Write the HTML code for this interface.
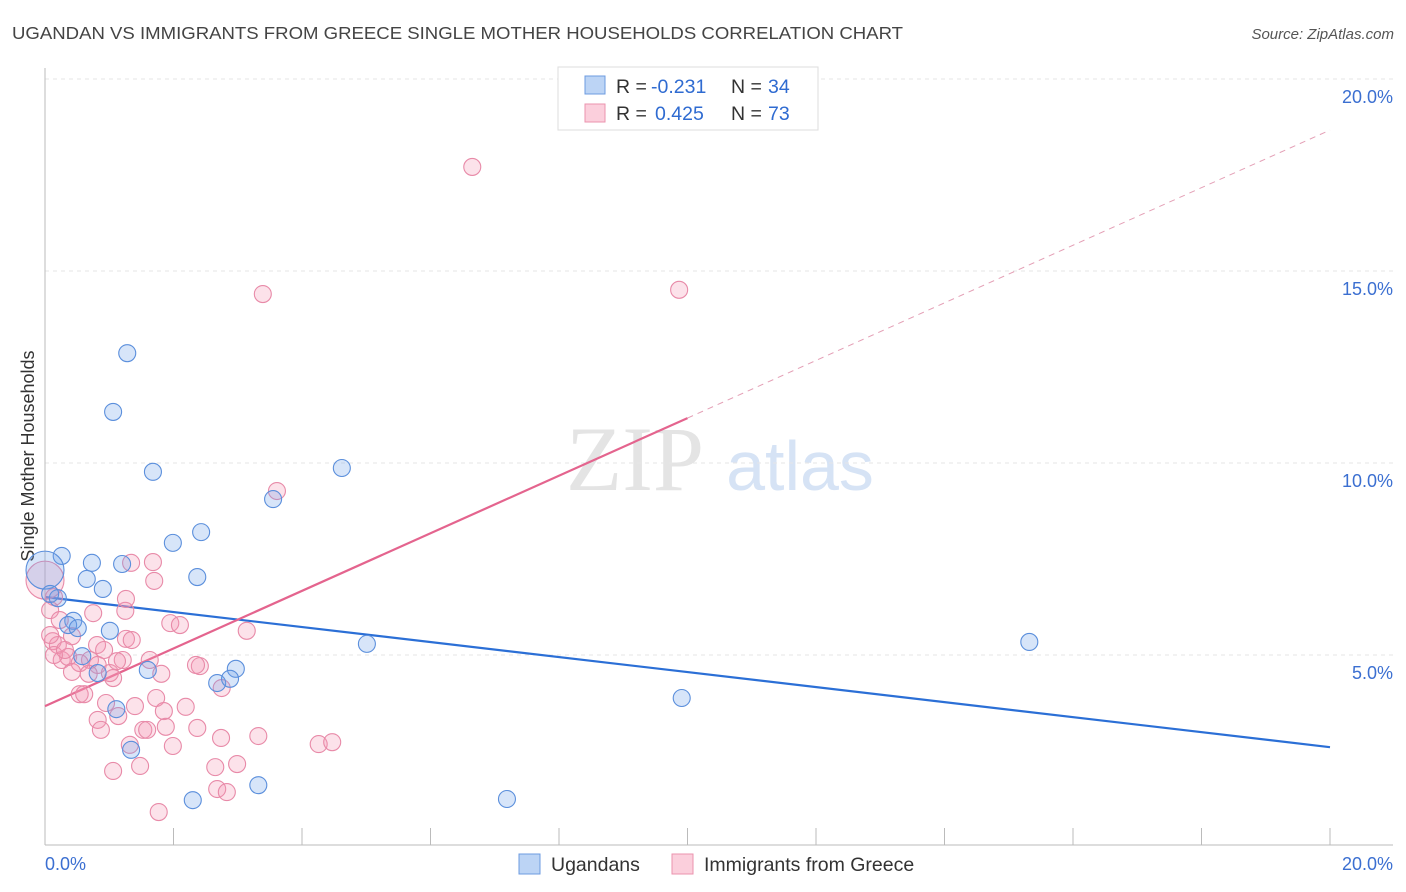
<!DOCTYPE html>
<html><head><meta charset="utf-8"><style>
body{margin:0;background:#fff;font-family:"Liberation Sans",sans-serif;}
svg{display:block}
</style></head><body>
<svg id="chart" width="1406" height="892" viewBox="0 0 1406 892">
<text x="12" y="39" font-size="17.5" fill="#444" textLength="891" lengthAdjust="spacingAndGlyphs">UGANDAN VS IMMIGRANTS FROM GREECE SINGLE MOTHER HOUSEHOLDS CORRELATION CHART</text>
<text x="1394" y="39" font-size="15" fill="#555" font-style="italic" text-anchor="end">Source: ZipAtlas.com</text>
<text transform="translate(34,456) rotate(-90)" font-size="18" fill="#333" text-anchor="middle">Single Mother Households</text>
<g>
<text x="635" y="490" font-size="92" fill="#e4e4e4" font-family="Liberation Serif,serif" text-anchor="middle">ZIP</text>
<text x="800" y="490" font-size="70" fill="#d6e3f5" text-anchor="middle">atlas</text>
</g>
<g id="grid"></g><g id="axes"></g><g id="lines"></g><g id="pts"></g>
<g>
<rect x="558" y="67" width="260" height="63" fill="#fff" stroke="#ddd"/>
<rect x="585" y="76" width="20" height="18" fill="#bcd4f5" stroke="#6c9be0"/>
<rect x="585" y="104" width="20" height="18" fill="#fbcfdc" stroke="#eb93ae"/>
<text x="616" y="93" font-size="19.5" fill="#333">R =</text>
<text x="651" y="93" font-size="19.5" fill="#2f6bd1">-0.231</text>
<text x="731" y="93" font-size="19.5" fill="#333">N =</text>
<text x="768" y="93" font-size="19.5" fill="#2f6bd1">34</text>
<text x="616" y="120" font-size="19.5" fill="#333">R =</text>
<text x="655" y="120" font-size="19.5" fill="#2f6bd1">0.425</text>
<text x="731" y="120" font-size="19.5" fill="#333">N =</text>
<text x="768" y="120" font-size="19.5" fill="#2f6bd1">73</text>
</g>
<g>
<rect x="519" y="854" width="21" height="20" fill="#bcd4f5" stroke="#6c9be0"/>
<text x="551" y="871" font-size="19.5" fill="#333">Ugandans</text>
<rect x="672" y="854" width="21" height="20" fill="#fbcfdc" stroke="#eb93ae"/>
<text x="704" y="871" font-size="19.5" fill="#333">Immigrants from Greece</text>
</g>
</svg>
<script>
const blueX=[1.28,1.06,1.68,4.62,3.55,2.43,1.99,0.26,0.73,1.20,2.37,0.65,0.90,0.20,0.44,0.36,0.51,1.01,0.58,0.82,1.60,2.97,2.68,2.88,1.11,1.34,5.01,15.32,9.91,2.30,3.32,7.19,0,0.08];
const blueY=[12.86,11.33,9.77,9.87,9.06,8.20,7.92,7.58,7.40,7.37,7.03,6.98,6.72,6.48,5.89,5.78,5.70,5.63,4.97,4.53,4.61,4.64,4.27,4.38,3.59,2.53,5.29,5.34,3.88,1.22,1.61,1.25,7.21,6.59];
const pinkX=[6.65,3.39,9.87,3.61,1.68,1.34,1.70,0.75,1.25,1.26,1.95,0.14,3.14,0.08,0.12,0.20,0.42,0.81,1.26,0.70,0.26,0.36,0.54,0.82,1.01,1.21,2.41,2.35,1.06,0.68,0.42,1.81,1.73,2.19,1.85,1.40,1.14,0.54,0.61,0.82,0.87,2.37,1.88,2.74,3.32,4.26,4.47,1.53,1.59,1.32,1.99,2.65,1.06,2.99,1.48,2.68,2.83,1.77,0,0.08,0.23,2.75,0.95,1.12,1.35,0.14,0.31,0.92,1.63,2.10];
const pinkY=[17.71,14.40,14.51,9.27,7.42,7.40,6.93,6.09,6.15,6.46,5.83,6.51,5.63,6.17,5.36,5.26,5.49,5.26,5.42,4.87,4.87,4.95,4.79,4.74,4.53,4.87,4.71,4.74,4.40,4.51,4.56,4.51,3.88,3.65,3.54,3.67,3.41,3.98,3.98,3.31,3.05,3.10,3.13,2.84,2.89,2.68,2.73,3.05,3.05,2.66,2.63,2.08,1.98,2.16,2.11,1.51,1.43,0.91,6.95,5.52,5.91,4.14,3.75,4.84,5.39,5.00,5.13,5.13,4.87,5.78];
const blueTrend=[6.51,2.60];
const pinkTrend=[3.67,18.67];
const yTicks=[5,10,15,20];
const xTickLabels=["0.0%","20.0%"];
const NS="http://www.w3.org/2000/svg";
const sx=v=>45+v*64.25, sy=v=>847-v*38.4;
function mk(p,t,a){const e=document.createElementNS(NS,t);for(const k in a)e.setAttribute(k,a[k]);document.getElementById(p).appendChild(e);return e;}
yTicks.forEach(t=>{
 const l=mk('grid','line',{x1:45,x2:1393,y1:sy(t),y2:sy(t),stroke:'#e6e6e6','stroke-dasharray':'4,4'});
 
 
 const tx=mk('axes','text',{x:1393,y:sy(t)+24,'font-size':18,fill:'#3b6fd1','text-anchor':'end'});
 tx.textContent=t.toFixed(1)+'%';
 
 
});
mk('axes','line',{x1:45,x2:45,y1:68,y2:845,stroke:'#bbb'});
mk('axes','line',{x1:45,x2:1393,y1:845,y2:845,stroke:'#bbb'});
for(let k=1;k<=10;k++){mk('axes','line',{x1:sx(k*2),x2:sx(k*2),y1:828,y2:845,stroke:'#bbb'});}
const xl0=mk('axes','text',{x:45,y:870,'font-size':18,fill:'#3b6fd1'});xl0.textContent=xTickLabels[0];


const xl1=mk('axes','text',{x:1393,y:870,'font-size':18,fill:'#3b6fd1','text-anchor':'end'});xl1.textContent=xTickLabels[1];


function draw(xs,ys,fill,stroke,name){xs.forEach((x,i)=>{
 const r=(x===0)?19:8.5;
 const c=mk('pts','circle',{cx:sx(x),cy:sy(ys[i]),r:r,fill:fill,stroke:stroke,'stroke-width':1.1});
 
 
});}
draw(pinkX,pinkY,'rgba(244,150,180,0.28)','#e88aa8','point-greece');
draw(blueX,blueY,'rgba(110,160,235,0.28)','#5b8fdc','point-ugandans');
const bl=mk('lines','line',{x1:sx(0),y1:sy(blueTrend[0]),x2:sx(20),y2:sy(blueTrend[1]),stroke:'#2b6fd6','stroke-width':2.2});


const pm=pinkTrend[0]+(pinkTrend[1]-pinkTrend[0])*0.5;
const pl=mk('lines','line',{x1:sx(0),y1:sy(pinkTrend[0]),x2:sx(10),y2:sy(pm),stroke:'#e4648e','stroke-width':2.2});


const pd=mk('lines','line',{x1:sx(10),y1:sy(pm),x2:sx(20),y2:sy(pinkTrend[1]),stroke:'#e4a0b6','stroke-width':1,'stroke-dasharray':'6,5'});


</script>
</body></html>
